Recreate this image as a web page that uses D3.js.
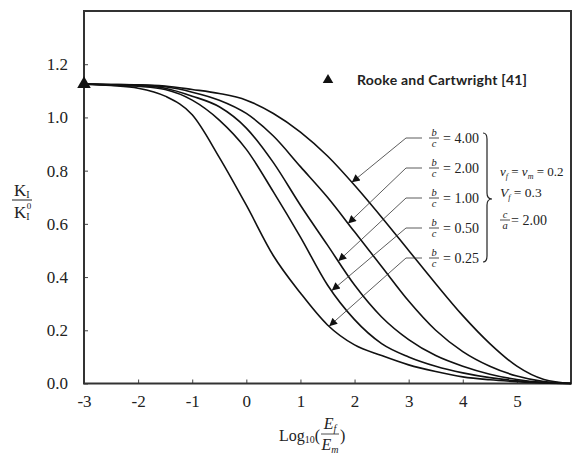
<!DOCTYPE html>
<html>
<head>
<meta charset="utf-8">
<script src="https://cdn.jsdelivr.net/npm/d3@7"></script>
<style>
  body { margin: 0; background: #fff; }
  svg text { font-family: "Liberation Serif", "Times New Roman", serif; fill: #222; }
</style>
</head>
<body>
<svg id="chart" width="573" height="456"></svg>
<script>
// x = log10(Ef/Em)
var logRatio = [-3, -2.5, -2, -1.5, -1, -0.5, 0, 0.5, 1, 1.5, 2, 2.5, 3, 3.5, 4, 4.5, 5, 5.5, 6];

// K_I / K_I^0, one array per b/c
var bc025 = [1.125, 1.12, 1.11, 1.08, 1.01, 0.85, 0.67, 0.48, 0.34, 0.22, 0.145, 0.105, 0.07, 0.045, 0.025, 0.014, 0.007, 0.002, 0.0];
var bc050 = [1.125, 1.122, 1.117, 1.105, 1.065, 0.99, 0.88, 0.72, 0.55, 0.37, 0.24, 0.15, 0.10, 0.065, 0.04, 0.022, 0.01, 0.003, 0.0];
var bc100 = [1.125, 1.123, 1.12, 1.11, 1.08, 1.04, 0.96, 0.83, 0.67, 0.52, 0.37, 0.25, 0.165, 0.105, 0.065, 0.035, 0.015, 0.004, 0.0];
var bc200 = [1.125, 1.124, 1.122, 1.115, 1.095, 1.065, 1.015, 0.93, 0.815, 0.70, 0.57, 0.44, 0.31, 0.20, 0.12, 0.065, 0.028, 0.007, 0.0];
var bc400 = [1.125, 1.124, 1.123, 1.118, 1.105, 1.09, 1.065, 1.015, 0.945, 0.855, 0.745, 0.625, 0.50, 0.375, 0.255, 0.15, 0.065, 0.015, 0.0];

var seriesLabels = ["4.00", "2.00", "1.00", "0.50", "0.25"];
var seriesData = [bc400, bc200, bc100, bc050, bc025];
// where each label arrow hits its curve (x value)
var arrowAt = [1.95, 1.88, 1.70, 1.58, 1.53];

var refX = [-3];
var refY = [1.125];

var xTicks = [-3, -2, -1, 0, 1, 2, 3, 4, 5];
var yTicks = [0, 0.2, 0.4, 0.6, 0.8, 1.0, 1.2];

var svg = d3.select("#chart"),
    margin = {top: 11, right: 2, bottom: 72.5, left: 84},
    width = +svg.attr("width") - margin.left - margin.right,
    height = +svg.attr("height") - margin.top - margin.bottom;

var x = d3.scaleLinear().domain([-3, 6]).range([margin.left, margin.left + width]),
    y = d3.scaleLinear().domain([0, 1.4]).range([margin.top + height, margin.top]);

svg.append("defs").append("marker")
    .attr("id", "arrow")
    .attr("viewBox", "0 0 10 10")
    .attr("refX", 10).attr("refY", 5)
    .attr("markerWidth", 10).attr("markerHeight", 8)
    .attr("markerUnits", "userSpaceOnUse")
    .attr("orient", "auto")
  .append("path")
    .attr("d", "M0,0L10,5L0,10z")
    .attr("fill", "#111");

// axes
var xAxis = svg.append("g")
    .attr("transform", "translate(0," + y(0) + ")")
    .call(d3.axisBottom(x).tickValues(xTicks).tickFormat(function(d) { return String(d); })
      .tickSizeInner(-4).tickSizeOuter(0).tickPadding(11));
var yAxis = svg.append("g")
    .attr("transform", "translate(" + x(-3) + ",0)")
    .call(d3.axisLeft(y).tickValues(yTicks).tickFormat(d3.format(".1f"))
      .tickSizeInner(-4).tickSizeOuter(0).tickPadding(16));

[xAxis, yAxis].forEach(function(a) {
  a.attr("font-family", "Liberation Serif").attr("font-size", 17);
  a.select(".domain").remove();
  a.selectAll("line").attr("stroke", "#444").attr("stroke-width", 1);
  a.selectAll("text").attr("fill", "#222");
});

// frame
svg.append("rect")
    .attr("x", x(-3)).attr("y", y(1.4))
    .attr("width", x(6) - x(-3)).attr("height", y(0) - y(1.4))
    .attr("fill", "none").attr("stroke", "#333").attr("stroke-width", 2);

// curves
var line = d3.line()
    .x(function(d, i) { return x(logRatio[i]); })
    .y(function(d) { return y(d); })
    .curve(d3.curveMonotoneX);

svg.selectAll(".curve")
  .data(seriesData)
  .enter().append("path")
    .attr("class", "curve")
    .attr("d", line)
    .attr("fill", "none")
    .attr("stroke", "#111")
    .attr("stroke-width", 1.6);

// reference point
svg.selectAll(".ref")
  .data(refX)
  .enter().append("path")
    .attr("class", "ref")
    .attr("transform", function(d, i) { return "translate(" + x(d) + "," + y(refY[i]) + ")"; })
    .attr("d", d3.symbol().type(d3.symbolTriangle).size(80))
    .attr("fill", "#111");

// legend
svg.append("path")
    .attr("transform", "translate(328,80)")
    .attr("d", d3.symbol().type(d3.symbolTriangle).size(48))
    .attr("fill", "#111");
svg.append("text")
    .attr("x", 357).attr("y", 85)
    .style("font-family", "Lato, 'Open Sans', sans-serif")
    .attr("font-weight", "bold")
    .attr("font-size", 14)
    .attr("textLength", 170)
    .text("Rooke and Cartwright [41]");

function interp(arr, xv) {
  var i = d3.bisectRight(logRatio, xv) - 1;
  var t = (xv - logRatio[i]) / (logRatio[i + 1] - logRatio[i]);
  return arr[i] + t * (arr[i + 1] - arr[i]);
}

function fraction(g, cx, ly, num, den, size) {
  g.append("text").attr("x", cx).attr("y", ly - 2).attr("text-anchor", "middle")
    .attr("font-size", size).attr("font-style", "italic").text(num);
  g.append("text").attr("x", cx).attr("y", ly + 8.5).attr("text-anchor", "middle")
    .attr("font-size", size).attr("font-style", "italic").text(den);
  g.append("line").attr("x1", cx - 5).attr("x2", cx + 5).attr("y1", ly).attr("y2", ly)
    .attr("stroke", "#222").attr("stroke-width", 0.8);
}

// b/c labels with arrows
var lab = svg.append("g");
seriesLabels.forEach(function(s, i) {
  var ly = 138 + i * 30;
  fraction(lab, 434, ly, "b", "c", 10.5);
  lab.append("text").attr("x", 443).attr("y", ly + 4.5).attr("font-size", 14).text("= " + s);
  var tx = x(arrowAt[i]), ty = y(interp(seriesData[i], arrowAt[i]));
  lab.append("polyline")
    .attr("points", "422," + ly + " 406," + ly + " " + tx + "," + ty)
    .attr("fill", "none").attr("stroke", "#333").attr("stroke-width", 0.8)
    .attr("marker-end", "url(#arrow)");
});

// brace
lab.append("path")
    .attr("d", "M483,133 Q487,133 487,139 L487,193 Q487,199 492,199 Q487,199 487,205 L487,256 Q487,262 483,262")
    .attr("fill", "none").attr("stroke", "#222").attr("stroke-width", 1.2);

// parameters
var p1 = lab.append("text").attr("x", 500).attr("y", 176).attr("font-size", 13);
p1.append("tspan").attr("font-style", "italic").text("\u03bd");
p1.append("tspan").attr("font-size", 8).attr("font-style", "italic").attr("dy", 3).text("f");
p1.append("tspan").attr("dy", -3).text(" = ");
p1.append("tspan").attr("font-style", "italic").text("\u03bd");
p1.append("tspan").attr("font-size", 8).attr("font-style", "italic").attr("dy", 3).text("m");
p1.append("tspan").attr("dy", -3).text(" = 0.2");

var p2 = lab.append("text").attr("x", 500).attr("y", 197).attr("font-size", 13.5);
p2.append("tspan").attr("font-style", "italic").text("V");
p2.append("tspan").attr("font-size", 8).attr("font-style", "italic").attr("dy", 3).text("f");
p2.append("tspan").attr("dy", -3).text(" = 0.3");

fraction(lab, 505, 220, "c", "a", 10.5);
lab.append("text").attr("x", 511).attr("y", 224.5).attr("font-size", 14).text("= 2.00");

// y axis title
var yt = svg.append("g");
yt.append("text").attr("x", 14).attr("y", 196).attr("font-size", 17).text("K")
  .append("tspan").attr("font-size", 10).attr("dy", 2).text("I");
yt.append("line").attr("x1", 12).attr("x2", 32).attr("y1", 200).attr("y2", 200)
  .attr("stroke", "#222").attr("stroke-width", 1);
var yd = yt.append("text").attr("x", 14).attr("y", 218).attr("font-size", 17).text("K");
yd.append("tspan").attr("font-size", 10).attr("dy", 2).text("I");
yd.append("tspan").attr("font-size", 9).attr("dx", -3).attr("dy", -11).text("0");

// x axis title
var xt = svg.append("g");
var xl = xt.append("text").attr("x", 279).attr("y", 441).attr("font-size", 16).text("Log");
xl.append("tspan").attr("font-size", 10).attr("dy", 2).text("10");
xl.append("tspan").attr("dy", -2).text("(");
xt.append("text").attr("x", 330).attr("y", 429).attr("text-anchor", "middle")
  .attr("font-size", 16).attr("font-style", "italic").text("E")
  .append("tspan").attr("font-size", 10).attr("dy", 3).text("f");
xt.append("line").attr("x1", 321).attr("x2", 339).attr("y1", 434).attr("y2", 434)
  .attr("stroke", "#222").attr("stroke-width", 0.8);
xt.append("text").attr("x", 330).attr("y", 450).attr("text-anchor", "middle")
  .attr("font-size", 16).attr("font-style", "italic").text("E")
  .append("tspan").attr("font-size", 10).attr("dy", 3).text("m");
xt.append("text").attr("x", 340).attr("y", 441).attr("font-size", 16).text(")");
</script>
</body>
</html>
